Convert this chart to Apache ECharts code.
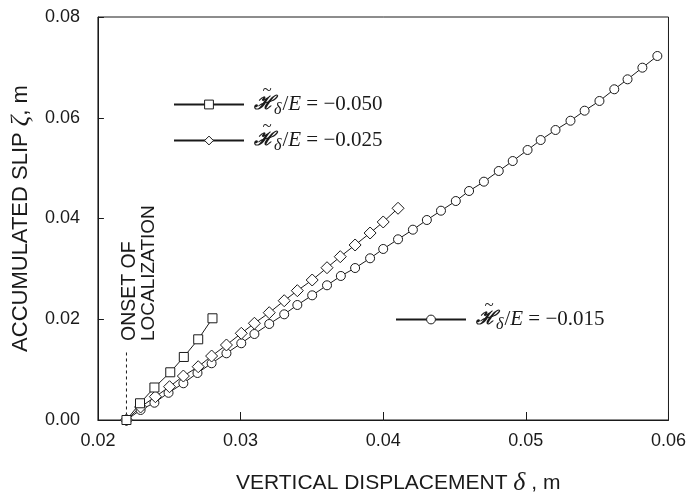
<!DOCTYPE html>
<html>
<head>
<meta charset="utf-8">
<script src="https://cdn.jsdelivr.net/npm/echarts@6/dist/echarts.min.js"></script>
<style>
html,body{margin:0;padding:0;background:#fff;}
#c{width:689px;height:503px;}
</style>
</head>
<body>
<div id="c"></div>
<script>
// ---- data ----
const xTicks = [0.02, 0.03, 0.04, 0.05, 0.06];
const yTicks = [0.00, 0.02, 0.04, 0.06, 0.08];

const nameSquare  = 'H/E = -0.050';
const nameDiamond = 'H/E = -0.025';
const nameCircle  = 'H/E = -0.015';

const deltaSquare = [0.0220, 0.02295, 0.02396, 0.02507, 0.02602, 0.02703, 0.02803];
const slipSquare  = [0.0000, 0.00332, 0.00645, 0.00947, 0.01251, 0.01602, 0.02019];

const deltaDiamond = [0.0220, 0.02299, 0.02403, 0.02502, 0.02599, 0.02703, 0.02797, 0.02901, 0.03005, 0.03097,
                      0.03201, 0.03306, 0.03398, 0.03502, 0.03606, 0.03699, 0.03803, 0.03908, 0.04000, 0.04104];
const slipDiamond  = [0.0000, 0.00258, 0.00463, 0.00661, 0.00873, 0.01058, 0.01270, 0.01489, 0.01721, 0.01920,
                      0.02130, 0.02368, 0.02567, 0.02779, 0.03023, 0.03242, 0.03474, 0.03712, 0.03931, 0.04203];

const deltaCircle = [0.0220, 0.02299, 0.02396, 0.02495, 0.02599, 0.02698, 0.02797, 0.02901, 0.03005, 0.03097,
                     0.03201, 0.03306, 0.03398, 0.03502, 0.03606, 0.03703, 0.03803, 0.03908, 0.04000, 0.04104,
                     0.04208, 0.04306, 0.04405, 0.04509, 0.04602, 0.04706, 0.04810, 0.04908, 0.05012, 0.05104,
                     0.05208, 0.05313, 0.05412, 0.05516, 0.05620, 0.05713, 0.05817, 0.05922];
const slipCircle  = [0.0000, 0.00199, 0.00343, 0.00540, 0.00729, 0.00933, 0.01126, 0.01324, 0.01523, 0.01707,
                     0.01906, 0.02098, 0.02283, 0.02475, 0.02674, 0.02859, 0.03017, 0.03210, 0.03395, 0.03587,
                     0.03778, 0.03970, 0.04155, 0.04347, 0.04546, 0.04731, 0.04943, 0.05141, 0.05360, 0.05558,
                     0.05757, 0.05941, 0.06140, 0.06333, 0.06565, 0.06763, 0.06994, 0.07226];

const onsetX = [0.022, 0.022];
const onsetY = [0.0009, 0.0135];

const legendValues = ['−0.050', '−0.025', '−0.015'];

// ---- chart ----
const zip = (a, b) => a.map((v, i) => [v, b[i]]);
const ink = '#1a1a1a';
const sans = 'Liberation Sans, Arial, Helvetica, sans-serif';
const serif = 'Liberation Serif, Times New Roman, serif';

function legendRich() {
  return {
    h: {fontFamily: 'DejaVu Serif', fontStyle: 'italic', fontWeight: 'bold', fontSize: 19, color: ink, lineHeight: 26, verticalAlign: 'middle'},
    d: {fontFamily: serif, fontStyle: 'italic', fontSize: 16, color: ink, lineHeight: 14, verticalAlign: 'bottom', padding: [0, 1, 0, 0]},
    s: {fontFamily: serif, fontSize: 21, color: ink, lineHeight: 26, verticalAlign: 'middle'},
    e: {fontFamily: serif, fontStyle: 'italic', fontSize: 21, color: ink, lineHeight: 26, verticalAlign: 'middle'},
    v: {fontFamily: serif, fontSize: 21, color: ink, lineHeight: 26, verticalAlign: 'middle'}
  };
}
function legendFmt(i) {
  return function () { return '{h|ℋ}{d|δ}{s|/}{e|E}{v| = ' + legendValues[i] + '}'; };
}
function mkLegend(name, i, left, top, w) {
  return {
    data: [name], left: left, top: top, orient: 'horizontal',
    itemWidth: w, itemHeight: 11, itemGap: 0, padding: 0,
    selectedMode: false,
    itemStyle: {borderWidth: 1},
    formatter: legendFmt(i),
    textStyle: {rich: legendRich(), padding: [0, 0, 0, 5]}
  };
}

const chart = echarts.init(document.getElementById('c'), null, {renderer: 'canvas'});
const baseSeries = (name, sym, size, data) => ({
  name: name, type: 'line', data: data, symbol: sym, symbolSize: size,
  showSymbol: true, animation: false,
  lineStyle: {color: ink, width: 1},
  itemStyle: {color: '#fff', borderColor: ink, borderWidth: 1},
  emphasis: {disabled: true}, z: 3
});

const tilde = (x, y) => ({type: 'text', x: x, y: y, z: 10,
  style: {text: '~', fontFamily: serif, fontSize: 17, fill: ink, textAlign: 'center', textVerticalAlign: 'middle'}});

chart.setOption({
  animation: false,
  backgroundColor: '#fff',
  grid: {left: 97, right: 16, top: 17, bottom: 83, show: true, borderColor: ink, borderWidth: 1, backgroundColor: 'transparent'},
  xAxis: {
    type: 'value', min: xTicks[0], max: xTicks[xTicks.length - 1], interval: 0.01,
    axisLine: {lineStyle: {color: ink, width: 1}},
    axisTick: {inside: true, length: 8, lineStyle: {color: ink}},
    splitLine: {show: false},
    axisLabel: {margin: 12, fontFamily: sans, fontSize: 18, color: ink, formatter: v => v.toFixed(2)},
    name: '{a|VERTICAL DISPLACEMENT }{g|δ}{a| , m}',
    nameLocation: 'middle', nameGap: 50,
    nameTextStyle: {padding: [0, 0, 0, 30], rich: {
      a: {fontFamily: sans, fontSize: 21, color: ink},
      g: {fontFamily: serif, fontStyle: 'italic', fontSize: 26, color: ink}
    }}
  },
  yAxis: {
    type: 'value', min: yTicks[0], max: yTicks[yTicks.length - 1], interval: 0.02,
    axisLine: {lineStyle: {color: ink, width: 1}},
    axisTick: {inside: true, length: 6, lineStyle: {color: ink}},
    splitLine: {show: false},
    axisLabel: {margin: 18, fontFamily: sans, fontSize: 18, color: ink, formatter: v => v.toFixed(2)},
    name: '{a|ACCUMULATED SLIP }{g|ζ}{a|, m}',
    nameLocation: 'middle', nameGap: 60, nameRotate: 90,
    nameTextStyle: {rich: {
      a: {fontFamily: sans, fontSize: 22, color: ink},
      g: {fontFamily: serif, fontStyle: 'italic', fontSize: 26, color: ink}
    }}
  },
  legend: [
    mkLegend(nameSquare, 0, 173, 94, 70),
    mkLegend(nameDiamond, 1, 173, 130, 70),
    mkLegend(nameCircle, 2, 395, 309, 70)
  ],
  series: [
    baseSeries(nameCircle, 'circle', 9, zip(deltaCircle, slipCircle)),
    baseSeries(nameDiamond, 'diamond', 12, zip(deltaDiamond, slipDiamond)),
    baseSeries(nameSquare, 'rect', 9, zip(deltaSquare, slipSquare)),
    {
      name: 'onset', type: 'line', data: zip(onsetX, onsetY), symbol: 'none',
      lineStyle: {color: ink, width: 1, type: [3, 3]}, z: 2, emphasis: {disabled: true}
    }
  ],
  graphic: [
    {type: 'text', x: 130, y: 341, rotation: Math.PI / 2,
     style: {text: 'ONSET OF', fontFamily: sans, fontSize: 19.5, fill: ink, textAlign: 'left', textVerticalAlign: 'middle'}},
    {type: 'text', x: 149, y: 341, rotation: Math.PI / 2,
     style: {text: 'LOCALIZATION', fontFamily: sans, fontSize: 19, fill: ink, textAlign: 'left', textVerticalAlign: 'middle'}},
    tilde(267, 91),
    tilde(267, 127),
    tilde(489, 306)
  ]
});
</script>
</body>
</html>
